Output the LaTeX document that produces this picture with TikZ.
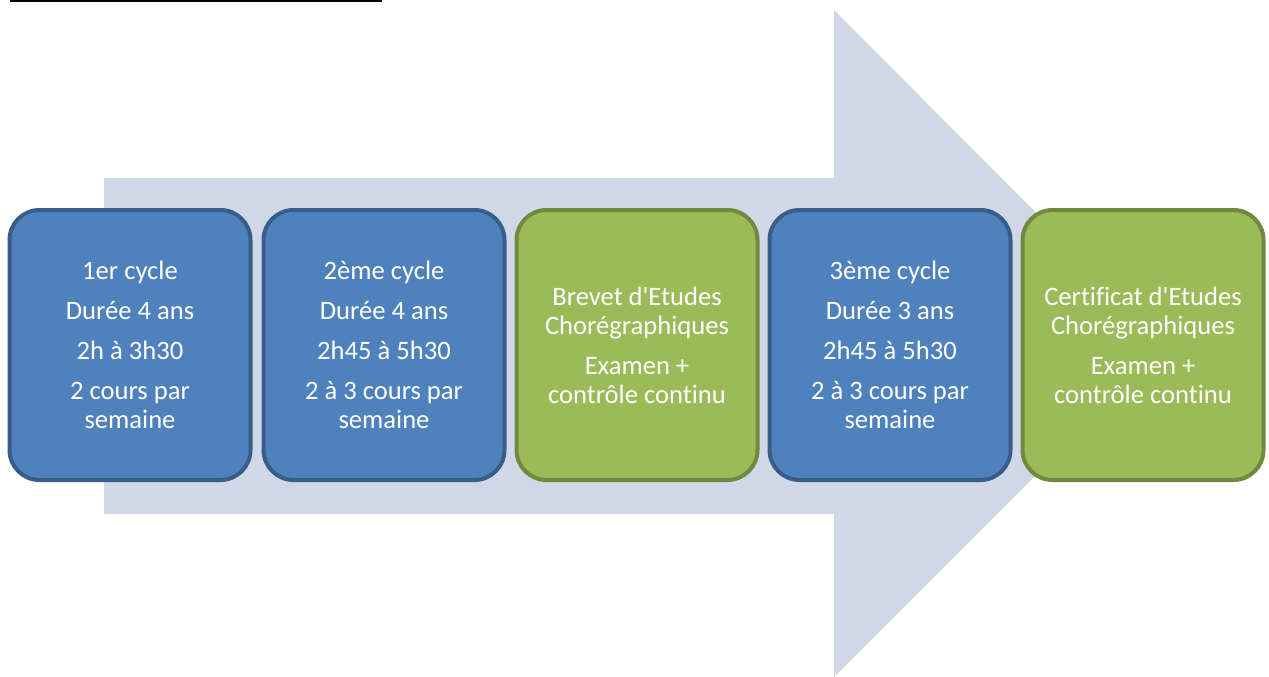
\documentclass[tikz,border=0pt]{standalone}
\usepackage{fontspec}
\setmainfont{Carlito}[Ligatures={TeXOff,NoCommon}]
\definecolor{arrowfill}{RGB}{208,216,232}
\definecolor{bluefill}{RGB}{79,129,189}
\definecolor{blueline}{RGB}{56,93,138}
\definecolor{greenfill}{RGB}{155,187,89}
\definecolor{greenline}{RGB}{113,137,63}
\begin{document}
\begin{tikzpicture}[x=1pt,y=-1pt,
  stepbox/.style={rounded corners=30pt, line width=4pt, minimum width=241pt, minimum height=270pt,
    align=center, text=white, font=\fontsize{26.6}{29}\selectfont, inner sep=0pt},
  bluebox/.style={stepbox, fill=bluefill, draw=blueline},
  greenbox/.style={stepbox, fill=greenfill, draw=greenline}]
\useasboundingbox (0,0) rectangle (1269,677);
\fill[white] (0,0) rectangle (1269,677);
\draw[line width=2pt] (10,1) -- (382,1);
\fill[arrowfill] (104,178) -- (834,178) -- (834,10) -- (1167,344) -- (834,677) -- (834,514) -- (104,514) -- cycle;
\node[bluebox] (c1) at (130,345) {1er cycle\\[11pt]Durée 4 ans\\[11pt]2h à 3h30\\[11pt]2 cours par\\semaine};
\node[bluebox] (c2) at (384,345) {2ème cycle\\[11pt]Durée 4 ans\\[11pt]2h45 à 5h30\\[11pt]2 à 3 cours par\\semaine};
\node[greenbox] (b1) at (637,345) {Brevet d'Etudes\\Chorégraphiques\\[11pt]Examen +\\contrôle continu};
\node[bluebox] (c3) at (890,345) {3ème cycle\\[11pt]Durée 3 ans\\[11pt]2h45 à 5h30\\[11pt]2 à 3 cours par\\semaine};
\node[greenbox] (b2) at (1143,345) {Certificat d'Etudes\\Chorégraphiques\\[11pt]Examen +\\contrôle continu};
\end{tikzpicture}
\end{document}
